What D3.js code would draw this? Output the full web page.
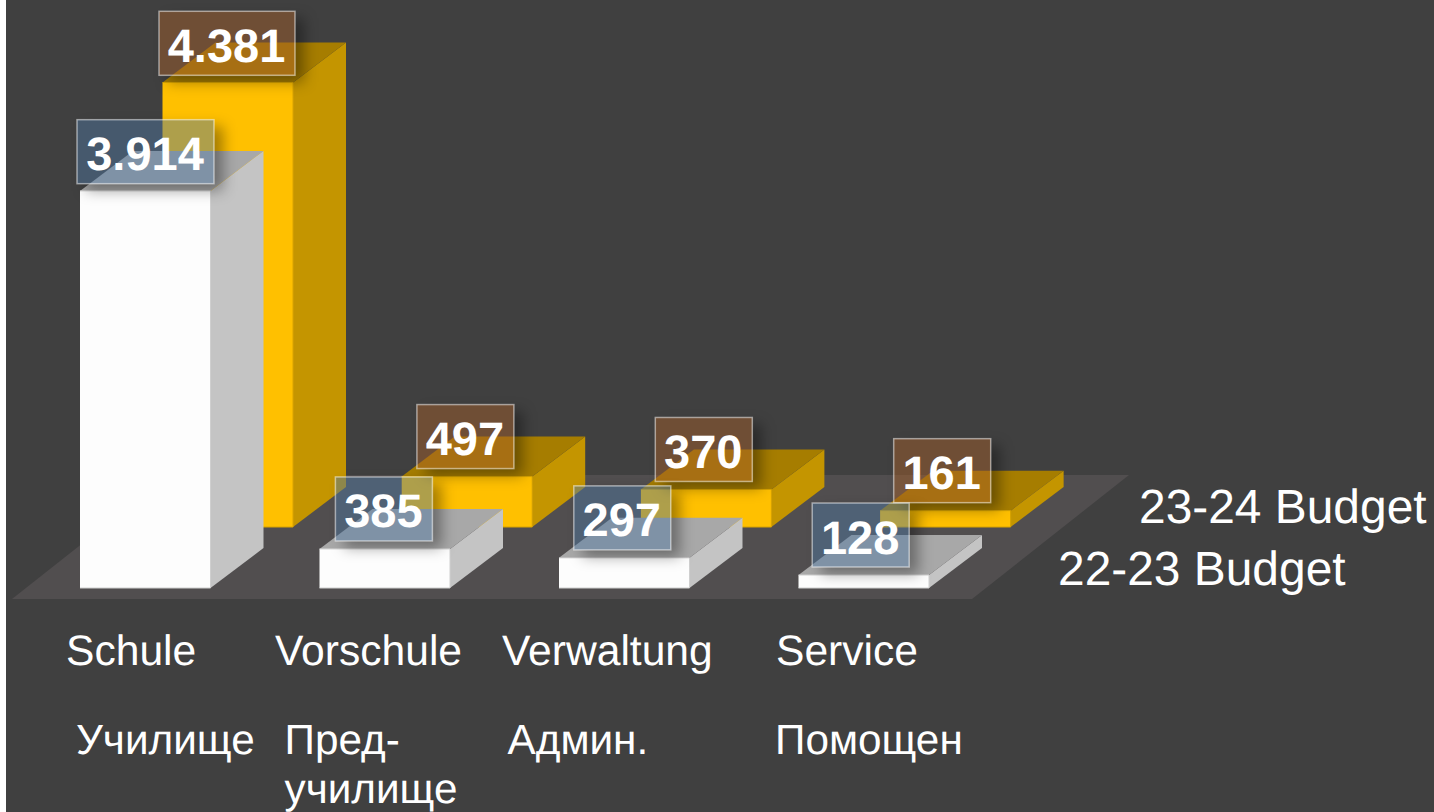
<!DOCTYPE html>
<html><head><meta charset="utf-8">
<script src="https://cdnjs.cloudflare.com/ajax/libs/d3/7.8.5/d3.min.js"></script>
<style>html,body{margin:0;padding:0;background:#fff;overflow:hidden}svg{display:block}text{font-family:"Liberation Sans",Arial,sans-serif;fill:#fff;text-rendering:geometricPrecision}</style>
</head><body><svg id="c" width="1434" height="812"></svg>
<script>
const categories = ["Schule","Vorschule","Verwaltung","Service"];
const categoriesBg = ["Училище","Пред-","Админ.","Помощен"];
const categoriesBg2 = ["","училище","",""];
const budget2223 = [3914,385,297,128];
const budget2324 = [4381,497,370,161];
const labels2223 = ["3.914","385","297","128"];
const labels2324 = ["4.381","497","370","161"];
const seriesNames = ["22-23 Budget","23-24 Budget"];

const W=1434,H=812;
const svg=d3.select("#c");
const defs=svg.append("defs");
defs.append("filter").attr("id","blur").attr("x","-40%").attr("y","-40%").attr("width","180%").attr("height","180%")
  .append("feGaussianBlur").attr("stdDeviation",7);

// scales
const barW=130.5, depthX=53, depthY=40;
const xBand=d3.scaleBand().domain(categories).range([80,80+4*239.5]);
const yH=d3.scaleLinear().domain([0,4381]).range([0,444.5]);
const labelX=d3.scaleBand().domain(categories).range([145.5,145.5+4*238.4]);
const series=[
 {name:seriesNames[1],vals:budget2324,labs:labels2324,dx:82.5,step:-0.3,base:527,front:"#ffc000",side:"#c49500",top:"#a67d00",edge:"#d9a400",box:"rgba(168,95,41,.46)",boxW:136},
 {name:seriesNames[0],vals:budget2223,labs:labels2223,dx:0,step:0,base:588,front:"#fdfdfd",side:"#c4c4c4",top:"#a8a8a8",edge:"#cfcfcf",box:"rgba(78,120,164,.46)",boxW:137}
];

svg.append("rect").attr("x",6).attr("y",0).attr("width",W-6).attr("height",H).attr("fill","#404040");
svg.append("polygon").attr("points","12,599 972,599 1129,475 169,475").attr("fill","#514e4f");

series.forEach(s=>{
  const g=svg.append("g");
  s.vals.forEach((v,i)=>{
    const x=xBand(categories[i])+s.dx+s.step*i, x2=x+barW, b=s.base, t=b-yH(v);
    g.append("polygon").attr("points",[[x2,b],[x2+depthX,b-depthY],[x2+depthX,t-depthY],[x2,t]].join(" ")).attr("fill",s.side);
    g.append("polygon").attr("points",[[x,t],[x2,t],[x2+depthX,t-depthY],[x+depthX,t-depthY]].join(" ")).attr("fill",s.top);
    g.append("rect").attr("x",x).attr("y",t).attr("width",barW).attr("height",b-t).attr("fill",s.front);
    g.append("path").attr("d",`M${x},${b}H${x2}V${t}H${x}`).attr("fill","none").attr("stroke",s.edge).attr("stroke-width",1);
  });
});

// value boxes
const boxH=64;
series.forEach((s,si)=>{
  const g=svg.append("g");
  s.vals.forEach((v,i)=>{
    const long=s.labs[i].length>3;
    const cx=labelX(categories[i])+(s.dx?81.5:0), t=s.base-yH(v);
    const w=long?s.boxW:97, y=t-(long?7.2:8)-boxH, x=cx-w/2;
    const mid="m"+si+i;
    const m=defs.append("mask").attr("id",mid).attr("maskUnits","userSpaceOnUse").attr("x",0).attr("y",0).attr("width",W).attr("height",H);
    m.append("rect").attr("width",W).attr("height",H).attr("fill","#fff");
    m.append("rect").attr("x",x).attr("y",y).attr("width",w).attr("height",boxH).attr("fill","#000");
    g.append("g").attr("mask",`url(#${mid})`).append("rect").attr("x",x+9).attr("y",y+7).attr("width",w).attr("height",boxH)
      .attr("fill","#000").attr("fill-opacity",.36).attr("filter","url(#blur)");
    g.append("rect").attr("x",x).attr("y",y).attr("width",w).attr("height",boxH).attr("fill",s.box)
      .attr("stroke","#fff").attr("stroke-opacity",.5).attr("stroke-width",1.5);
    g.append("text").attr("x",cx-0.5).attr("y",y+50.5).attr("text-anchor","middle").attr("font-size",47).attr("font-weight","bold").text(s.labs[i]);
  });
});

// category labels
const deLeft=[66,275,502,776], bgLeft=[76,284.5,507.5,775];
const cg=svg.append("g").attr("font-size",42.6);
categories.forEach((c,i)=>cg.append("text").attr("x",deLeft[i]).attr("y",665).text(c));
const cgBg=svg.append("g").attr("font-size",42.3);
categoriesBg.forEach((c,i)=>cgBg.append("text").attr("x",bgLeft[i]).attr("y",754).text(c));
categoriesBg2.forEach((c,i)=>{if(c)cgBg.append("text").attr("x",bgLeft[i]).attr("y",802.5).text(c)});

// legend (depth-axis names)
const lg=svg.append("g").attr("font-size",47.9);
lg.append("text").attr("x",1139).attr("y",523).text(seriesNames[1]);
lg.append("text").attr("x",1058).attr("y",585).text(seriesNames[0]);
</script></body></html>
